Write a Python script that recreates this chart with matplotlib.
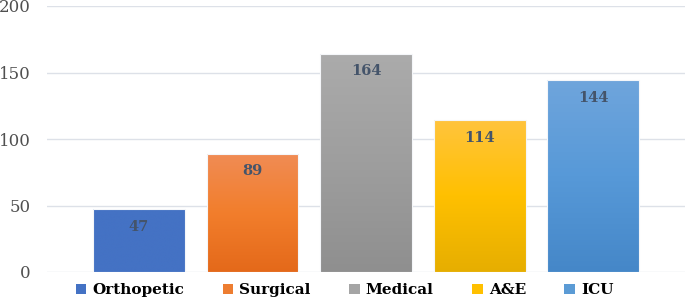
import matplotlib
matplotlib.use("Agg")
import matplotlib.pyplot as plt
import numpy as np
from matplotlib.colors import LinearSegmentedColormap
from matplotlib.patches import Patch

categories = ["Orthopetic", "Surgical", "Medical", "A&E", "ICU"]
values = [47, 89, 164, 114, 144]
yticks = [0, 50, 100, 150, 200]

# gradient stops (top, middle, bottom)
grads = [
    ("#4472C4", "#4472C4", "#4472C4"),
    ("#F08C55", "#F27E2C", "#E4691A"),
    ("#ABABAB", "#9E9E9E", "#8F8F8F"),
    ("#FFC43D", "#FFC000", "#E6AE00"),
    ("#6FA5DC", "#5799D8", "#4587C8"),
]
legend_colors = ["#4472C4", "#ED7D31", "#A5A5A5", "#FFC000", "#5B9BD5"]

serif = ["DejaVu Serif"]
fig = plt.figure(figsize=(6.85, 2.99), dpi=100)
ax = fig.add_axes([47/685, 27/299, 638/685, 266/299])

x = np.arange(len(categories))
width = 0.81
bars = ax.bar(x, values, width=width, color="none", edgecolor="#F4F6F9", linewidth=0.8, zorder=3)

for b, g in zip(bars, grads):
    cmap = LinearSegmentedColormap.from_list("g", [g[2], g[1], g[0]])
    grad = np.linspace(0, 1, 256).reshape(-1, 1)
    x0, y0 = b.get_x(), b.get_y()
    w, h = b.get_width(), b.get_height()
    im = ax.imshow(grad, cmap=cmap, origin="lower", aspect="auto",
                   extent=(x0, x0 + w, y0, y0 + h), zorder=2)
    im.set_clip_path(b)

for xi, v in zip(x, values):
    ax.annotate(str(v), (xi, v), xytext=(0, -12.5), textcoords="offset points",
                ha="center", va="center", fontsize=10.5, fontweight="bold",
                color="#44546A", family=serif, zorder=4)

ax.set_xlim(-0.81, 4.81)
ax.set_ylim(0, 200)
ax.set_yticks(yticks)
ax.set_xticks([])
ax.yaxis.grid(True, color="#DDE1E8", linewidth=1.0, zorder=0)
ax.set_axisbelow(True)
for s in ax.spines.values():
    s.set_visible(False)
ax.tick_params(axis="y", length=0, pad=12, labelsize=12, labelcolor="#505050")
for lab in ax.get_yticklabels():
    lab.set_family(serif)

handles = [Patch(facecolor=c, edgecolor="none") for c in legend_colors]
fig.legend(handles, categories, loc="lower center", ncol=5, frameon=False,
           bbox_to_anchor=(0.503, -0.04), handlelength=0.7, handleheight=0.7,
           handletextpad=0.4, columnspacing=2.5,
           prop={"family": serif, "weight": "bold", "size": 11})

fig.savefig("out.png", dpi=100)
